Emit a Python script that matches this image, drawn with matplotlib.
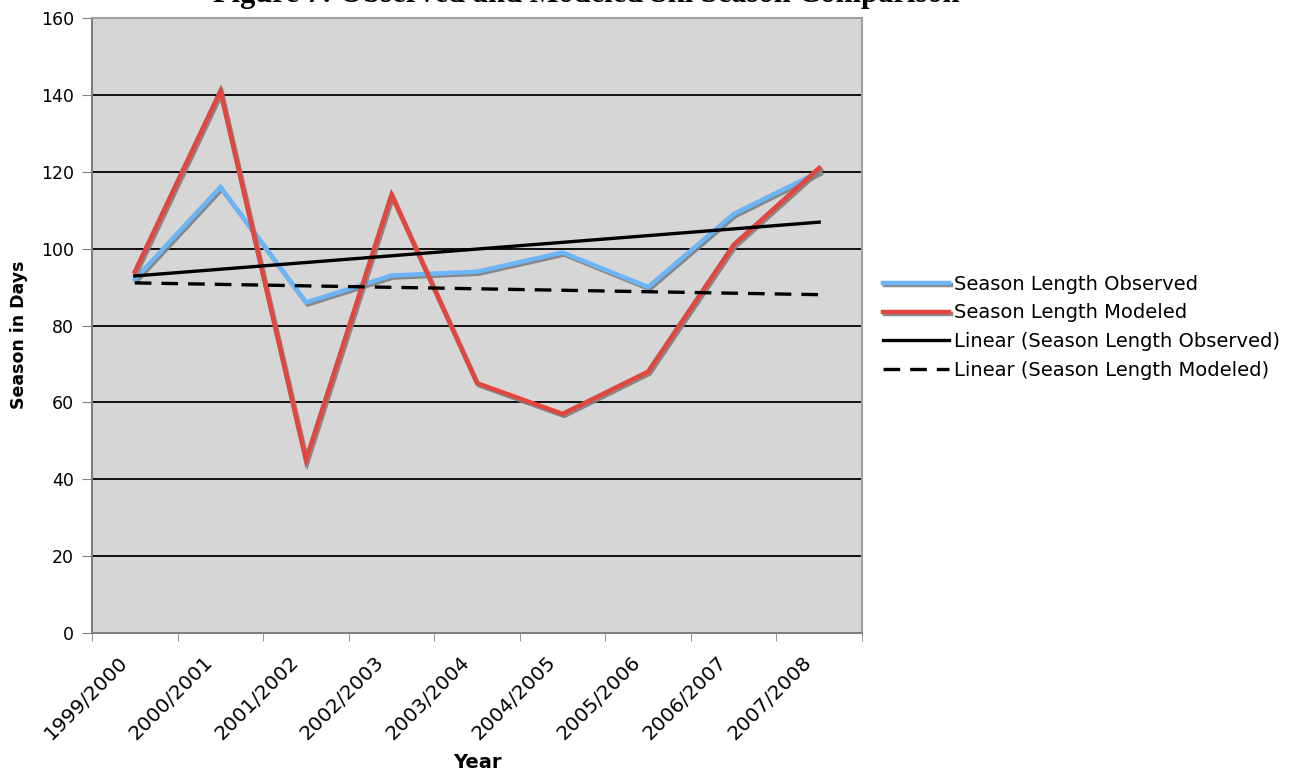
import numpy as np
import matplotlib.pyplot as plt
import matplotlib.patheffects as pe
from matplotlib.transforms import ScaledTranslation

seasons = ["1999/2000", "2000/2001", "2001/2002", "2002/2003", "2003/2004",
           "2004/2005", "2005/2006", "2006/2007", "2007/2008"]
observed = [92, 116, 86, 93, 94, 99, 90, 109, 120]
modeled = [94, 141, 45, 114, 65, 57, 68, 101, 121]

x = np.arange(len(seasons))

# linear trend lines, like Excel's "Linear (...)" series
obs_fit = np.polyval(np.polyfit(x, observed, 1), x)
mod_fit = np.polyval(np.polyfit(x, modeled, 1), x)

fig = plt.figure(figsize=(13.03, 7.74), dpi=100)
ax = fig.add_axes([0.0706, 0.1822, 0.5909, 0.7945])
ax.set_facecolor("#d6d6d6")

shadow = [pe.SimpleLineShadow(offset=(1.2, -1.5), shadow_color="#7f7f7f", alpha=0.9),
          pe.Normal()]

ax.plot(x, observed, color="#6cb6f7", lw=3.2, label="Season Length Observed",
        path_effects=shadow, zorder=4, solid_joinstyle="miter")
ax.plot(x, modeled, color="#e2463f", lw=3.2, label="Season Length Modeled",
        path_effects=shadow, zorder=5, solid_joinstyle="miter")
ax.plot(x, obs_fit, color="black", lw=2.4, label="Linear (Season Length Observed)", zorder=6)
ax.plot(x, mod_fit, color="black", lw=2.4, ls=(0, (5, 3)),
        label="Linear (Season Length Modeled)", zorder=6)

ax.set_xlim(-0.5, len(seasons) - 0.5)
ax.set_ylim(0, 160)
ax.set_yticks(range(0, 161, 20))
ax.yaxis.grid(True, color="black", lw=1.3)
ax.set_axisbelow(True)

# category boundaries get the tick marks, labels sit at the centers
ax.set_xticks(np.arange(-0.5, len(seasons)), minor=True)
ax.set_xticks(x)
ax.set_xticklabels(seasons, rotation=45, ha="right", va="top", rotation_mode="anchor")
ax.tick_params(axis="x", which="major", length=0, pad=14, labelsize=14.5)
ax.tick_params(axis="x", which="minor", length=6, color="#808080", direction="out")
ax.tick_params(axis="y", length=7, color="#808080", labelsize=12.5, pad=6)
shift = ScaledTranslation(-17 / 100, 0, fig.dpi_scale_trans)
for lab in ax.get_xticklabels():
    lab.set_transform(lab.get_transform() + shift)

for s in ["left", "bottom"]:
    ax.spines[s].set_color("#808080")
    ax.spines[s].set_linewidth(1.5)
for s in ["top", "right"]:
    ax.spines[s].set_color("#a0a0a0")
    ax.spines[s].set_linewidth(1.5)

ax.set_xlabel("Year", fontweight="bold", fontsize=14, labelpad=7)
ax.set_ylabel("Season in Days", fontweight="bold", fontsize=12.5)
ax.yaxis.set_label_coords(-0.083, 0.485)

ax.legend(loc="center left", bbox_to_anchor=(1.005, 0.497), frameon=False,
          fontsize=14, handlelength=3.4, handletextpad=0.25, labelspacing=0.5)

# title is mostly cut off in the original figure
fig.text(0.45, 0.9968, "Figure 7: Observed and Modeled Ski Season Comparison",
         ha="center", va="baseline", fontsize=22, fontweight="bold",
         family="Liberation Serif")

fig.savefig("out.png", dpi=100)
